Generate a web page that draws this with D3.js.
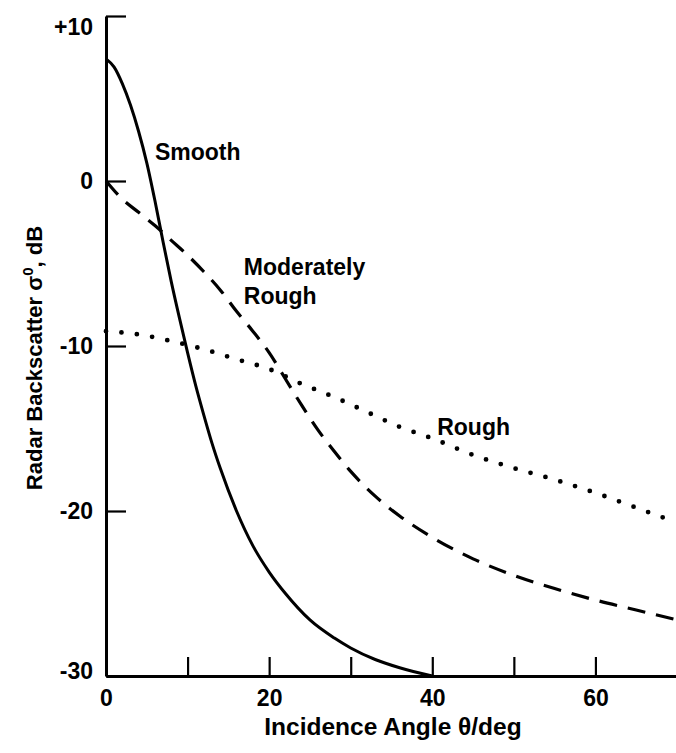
<!DOCTYPE html>
<html>
<head>
<meta charset="utf-8">
<script src="https://cdn.jsdelivr.net/npm/d3@7"></script>
<style>
  html, body { margin: 0; padding: 0; background: #fff; }
  svg { display: block; }
  text { font-family: "Liberation Sans", Arial, Helvetica, sans-serif; font-weight: bold; fill: #000; }
</style>
</head>
<body>
<svg id="chart" width="676" height="753"></svg>
<script>
// ---- data ----
const xTicks = [0, 10, 20, 30, 40, 50, 60, 70];
const xTickLabels = ["0", "", "20", "", "40", "", "60", ""];
const yTicks = [-30, -20, -10, 0, 10];
const yTickLabels = ["-30", "-20", "-10", "0", "+10"];

const smoothAngle = [0, 1, 2, 3, 4, 5, 6, 7, 8, 9, 10, 11, 12, 13, 14, 16, 18, 20, 22, 25, 28, 30, 33, 36, 40];
const smoothSigma = [7.4, 6.9, 5.9, 4.6, 3.0, 1.1, -1.2, -3.7, -6.1, -8.3, -10.4, -12.4, -14.2, -15.9, -17.4, -20.0, -22.1, -23.7, -25.0, -26.6, -27.7, -28.3, -29.0, -29.5, -30.0];

const modAngle = [0, 2, 4, 6, 8, 10, 12, 14, 16, 18, 20, 22, 24, 26, 28, 30, 33, 36, 40, 45, 50, 55, 60, 65, 70];
const modSigma = [0, -1.1, -1.9, -2.7, -3.6, -4.5, -5.5, -6.6, -7.9, -9.1, -10.4, -12.0, -13.6, -15.1, -16.4, -17.6, -19.1, -20.3, -21.6, -22.9, -23.9, -24.7, -25.4, -26.0, -26.6];

const roughAngle = [0, 4, 8, 12, 16, 20, 24, 28, 32, 36, 40, 45, 50, 55, 60, 65, 70];
const roughSigma = [-9.1, -9.3, -9.7, -10.2, -10.8, -11.4, -12.3, -13.1, -14.0, -14.9, -15.6, -16.6, -17.4, -18.1, -18.9, -19.8, -20.7];

const curveLabels = [
  { lines: ["Smooth"], x: 6.0, y: 1.25 },
  { lines: ["Moderately", "Rough"], x: 16.9, y: -5.7 },
  { lines: ["Rough"], x: 40.6, y: -15.4 }
];

// ---- drawing ----
const svg = d3.select("#chart");
const x = d3.scaleLinear().domain([0, 70]).range([106, 677]);
const y = d3.scaleLinear().domain([-30, 10]).range([676, 16]);

const zip = (a, b) => a.map((v, i) => [v, b[i]]);
const line = d3.line().x(d => x(d[0])).y(d => y(d[1])).curve(d3.curveMonotoneX);

// axes
const yAxis = d3.axisLeft(y)
  .tickValues(yTicks)
  .tickFormat((d, i) => yTickLabels[i])
  .tickSizeInner(-20)
  .tickSizeOuter(0)
  .tickPadding(13);
const yg = svg.append("g").attr("transform", `translate(${x(0)},0)`).call(yAxis);

const xAxis = d3.axisBottom(x)
  .tickValues(xTicks)
  .tickFormat((d, i) => xTickLabels[i])
  .tickSizeInner(-19)
  .tickSizeOuter(0)
  .tickPadding(14);
const xg = svg.append("g").attr("transform", `translate(0,${y(-30)})`).call(xAxis);

[yg, xg].forEach(g => {
  g.select(".domain").attr("stroke", "#000").attr("stroke-width", 3);
  g.selectAll(".tick line").attr("stroke", "#000").attr("stroke-width", 2.2);
  g.selectAll(".tick text")
    .attr("font-family", '"Liberation Sans", Arial, sans-serif')
    .attr("font-weight", "bold")
    .attr("font-size", 23)
    .attr("fill", "#000");
});
// top (+10) label sits a little below its tick in the reference
yg.selectAll(".tick text").filter(d => d === 10).attr("dy", "0.8em");
yg.selectAll(".tick text").filter(d => d === -30).attr("dy", "0.1em");

// curves
const plot = svg.append("g");
plot.append("path")
  .datum(zip(smoothAngle, smoothSigma))
  .attr("d", line)
  .attr("fill", "none").attr("stroke", "#000").attr("stroke-width", 3);

plot.append("path")
  .datum(zip(modAngle, modSigma))
  .attr("d", line)
  .attr("fill", "none").attr("stroke", "#000").attr("stroke-width", 3.2)
  .attr("stroke-dasharray", "18 11");

plot.append("path")
  .datum(zip(roughAngle, roughSigma))
  .attr("d", line)
  .attr("fill", "none").attr("stroke", "#000").attr("stroke-width", 4.8)
  .attr("stroke-linecap", "round")
  .attr("stroke-dasharray", "0 15.5");

// curve labels
curveLabels.forEach(l => {
  const t = svg.append("text")
    .attr("x", x(l.x)).attr("y", y(l.y))
    .attr("font-size", 23);
  l.lines.forEach((s, i) => {
    t.append("tspan").attr("x", x(l.x)).attr("dy", i === 0 ? 0 : 29).text(s);
  });
});

// axis titles
svg.append("text")
  .attr("x", 393).attr("y", 735)
  .attr("text-anchor", "middle")
  .attr("font-size", 24.5)
  .text("Incidence Angle θ/deg");

const yt = svg.append("text")
  .attr("transform", "translate(42,358) rotate(-90)")
  .attr("text-anchor", "middle")
  .attr("font-size", 22);
yt.append("tspan").text("Radar Backscatter σ");
yt.append("tspan").attr("font-size", 15).attr("dy", -9).text("0");
yt.append("tspan").attr("dy", 9).text(", dB");
</script>
</body>
</html>
